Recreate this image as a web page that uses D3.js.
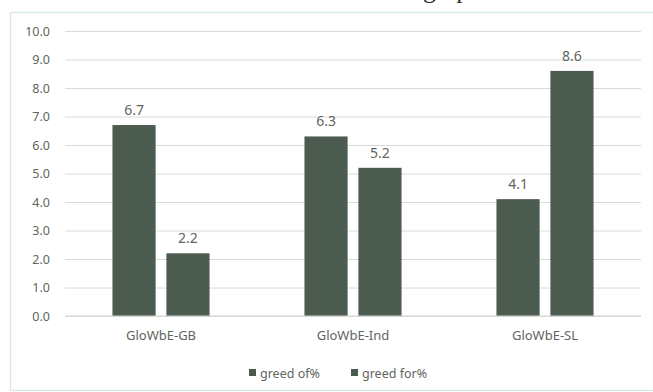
<!DOCTYPE html>
<html>
<head>
<meta charset="utf-8">
<script src="https://cdn.jsdelivr.net/npm/d3@7"></script>
<style>
  html, body { margin: 0; padding: 0; background: #ffffff; }
  svg { display: block; }
</style>
</head>
<body>
<svg id="chart" width="653" height="392"></svg>
<script>
const categories = ["GloWbE-GB", "GloWbE-Ind", "GloWbE-SL"];
const seriesNames = ["greed of%", "greed for%"];
const greedOf = [6.7, 6.3, 4.1];
const greedFor = [2.2, 5.2, 8.6];
const yTicks = [0, 1, 2, 3, 4, 5, 6, 7, 8, 9, 10];

const W = 653, H = 392;
const margin = { left: 65, right: 12, top: 31, bottom: 76 };
const svg = d3.select("#chart");
const font = "'Noto Sans', 'Liberation Sans', sans-serif";
const textColor = "#5f6560";
const barColor = "#4c5b4f";

// partially visible title (cropped at top in the reference)
svg.append("text")
  .attr("x", 423).attr("y", -2)
  .attr("font-family", "'Liberation Serif', 'DejaVu Serif', serif")
  .attr("font-size", 26)
  .attr("fill", "#2c2f2e")
  .text("graph");

// outer frame
svg.append("rect")
  .attr("x", 10.5).attr("y", 12.5)
  .attr("width", W - 10).attr("height", 378)
  .attr("fill", "none")
  .attr("stroke", "#d7e6e6")
  .attr("stroke-width", 1.2);

const x0 = d3.scaleBand()
  .domain(categories)
  .range([margin.left, W - margin.right]);
const x1 = d3.scaleBand()
  .domain(seriesNames)
  .range([0, x0.bandwidth()])
  .paddingInner(0.2)
  .paddingOuter(0.88);
const y = d3.scaleLinear()
  .domain([0, 10])
  .range([H - margin.bottom, margin.top]);

// gridlines
const yAxis = d3.axisLeft(y)
  .tickValues(yTicks)
  .tickFormat(d3.format(".1f"))
  .tickSize(-(W - margin.right - margin.left))
  .tickPadding(15);
const gy = svg.append("g")
  .attr("transform", `translate(${margin.left},0)`)
  .call(yAxis);
gy.select(".domain").remove();
gy.selectAll(".tick line")
  .attr("stroke", "#d8dcd9")
  .attr("stroke-width", 1);
gy.selectAll(".tick text")
  .attr("font-family", font)
  .attr("font-size", 12.5)
  .attr("fill", textColor);

// bars
const data = categories.map((c, i) => ({
  cat: c,
  vals: [
    { key: seriesNames[0], v: greedOf[i] },
    { key: seriesNames[1], v: greedFor[i] }
  ]
}));

const groups = svg.append("g").selectAll("g")
  .data(data).join("g")
  .attr("transform", d => `translate(${x0(d.cat)},0)`);

groups.selectAll("rect")
  .data(d => d.vals).join("rect")
  .attr("x", d => x1(d.key))
  .attr("width", x1.bandwidth())
  .attr("y", d => y(d.v))
  .attr("height", d => y(0) - y(d.v))
  .attr("fill", barColor);

groups.selectAll("text.val")
  .data(d => d.vals).join("text")
  .attr("class", "val")
  .attr("x", d => x1(d.key) + x1.bandwidth() / 2)
  .attr("y", d => y(d.v) - 10)
  .attr("text-anchor", "middle")
  .attr("font-family", font)
  .attr("font-size", 14)
  .attr("fill", textColor)
  .text(d => d.v.toFixed(1));

// x axis baseline
svg.append("line")
  .attr("x1", margin.left).attr("x2", W - margin.right)
  .attr("y1", y(0)).attr("y2", y(0))
  .attr("stroke", "#cfd6d2").attr("stroke-width", 1);

// category labels
const xAxis = d3.axisBottom(x0).tickSize(0).tickPadding(15);
const gx = svg.append("g")
  .attr("transform", `translate(0,${y(0)})`)
  .call(xAxis);
gx.select(".domain").remove();
gx.selectAll(".tick text")
  .attr("font-family", font)
  .attr("font-size", 13)
  .attr("fill", textColor);

// legend
const legend = svg.append("g").attr("transform", "translate(249,373)");
const legX = [0, 102];
seriesNames.forEach((s, i) => {
  const g = legend.append("g").attr("transform", `translate(${legX[i]},0)`);
  g.append("rect")
    .attr("x", 0).attr("y", -4)
    .attr("width", 7).attr("height", 7)
    .attr("fill", barColor);
  g.append("text")
    .attr("x", 11).attr("y", 4.5)
    .attr("font-family", font)
    .attr("font-size", 12.5)
    .attr("fill", textColor)
    .text(s);
});
</script>
</body>
</html>
